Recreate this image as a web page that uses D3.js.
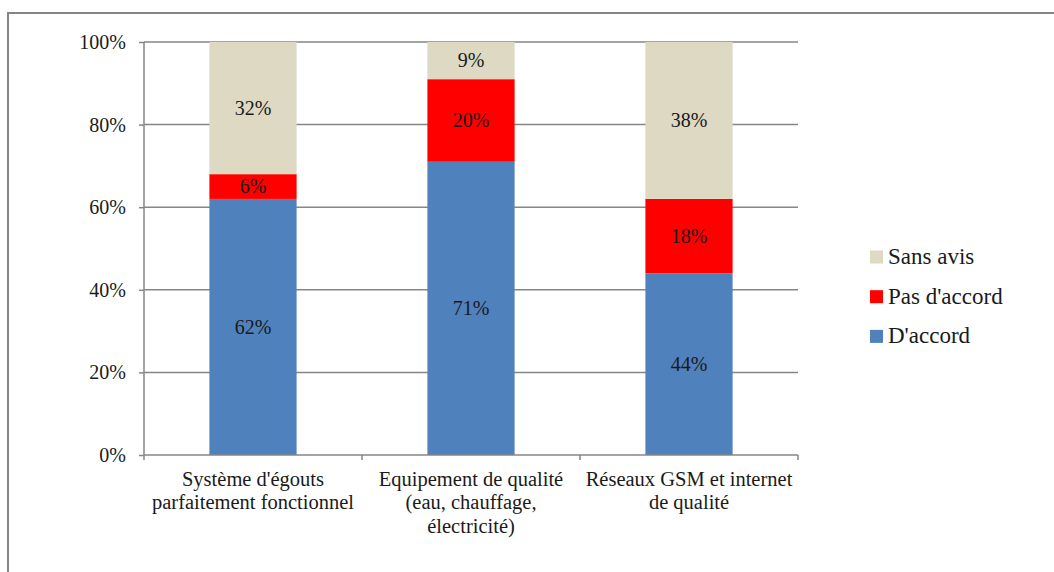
<!DOCTYPE html>
<html>
<head>
<meta charset="utf-8">
<script src="https://cdn.jsdelivr.net/npm/d3@7"></script>
<style>
  html, body { margin: 0; padding: 0; background: #fff; }
  svg { display: block; }
  svg text { font-family: "Liberation Serif", serif; }
</style>
</head>
<body>
<svg id="chart" width="1054" height="572"></svg>
<script>
// Survey answers per infrastructure item (percent)
const categories = [
  ["Système d'égouts", "parfaitement fonctionnel"],
  ["Equipement de qualité", "(eau, chauffage,", "électricité)"],
  ["Réseaux GSM et internet", "de qualité"]
];
const seriesNames = ["D'accord", "Pas d'accord", "Sans avis"];
const dAccord = [62, 71, 44];
const pasDAccord = [6, 20, 18];
const sansAvis = [32, 9, 38];
const yTicks = [0, 20, 40, 60, 80, 100];
const colors = ["#4F81BD", "#FF0000", "#DDD9C3"];

const FONT = "Liberation Serif";
const svg = d3.select("#chart");
const gridColor = "#868686";
const textColor = "#1a1a1a";

// Outer frame of the chart area
svg.append("rect")
  .attr("x", 8).attr("y", 13)
  .attr("width", 1060).attr("height", 580)
  .attr("fill", "none").attr("stroke", gridColor).attr("stroke-width", 2);

const plot = { left: 144, right: 798, top: 42, bottom: 455 };

const x = d3.scaleBand()
  .domain(d3.range(categories.length))
  .range([plot.left, plot.right])
  .paddingInner(0.6).paddingOuter(0.3);

const y = d3.scaleLinear().domain([0, 100]).range([plot.bottom, plot.top]);

// Horizontal gridlines
svg.append("g").selectAll("line")
  .data(yTicks.filter(t => t > 0))
  .join("line")
  .attr("x1", plot.left).attr("x2", plot.right)
  .attr("y1", d => y(d)).attr("y2", d => y(d))
  .attr("stroke", gridColor).attr("stroke-width", 1.5);

// Stacked data
const rows = categories.map((c, i) => ({ i, v: [dAccord[i], pasDAccord[i], sansAvis[i]] }));
const stack = d3.stack().keys([0, 1, 2]).value((d, k) => d.v[k]);
const layers = stack(rows);

const layerG = svg.append("g").selectAll("g")
  .data(layers)
  .join("g")
  .attr("fill", (d, k) => colors[k]);

layerG.selectAll("rect")
  .data(d => d)
  .join("rect")
  .attr("x", d => x(d.data.i))
  .attr("width", x.bandwidth())
  .attr("y", d => y(d[1]))
  .attr("height", d => y(d[0]) - y(d[1]));

// Value labels inside segments
layerG.selectAll("text")
  .data((d, k) => d.map(s => ({ s, k })))
  .join("text")
  .attr("font-family", FONT)
  .attr("x", d => x(d.s.data.i) + x.bandwidth() / 2)
  .attr("y", d => (y(d.s[0]) + y(d.s[1])) / 2)
  .attr("dy", "0.33em")
  .attr("text-anchor", "middle")
  .attr("fill", textColor)
  .attr("font-size", 20)
  .text(d => d.s.data.v[d.k] + "%");

// Y axis
const yAxis = svg.append("g")
  .attr("transform", `translate(${plot.left},0)`)
  .call(d3.axisLeft(y).tickValues(yTicks).tickSize(5).tickFormat(d => d + "%"))
  .attr("font-family", FONT);
yAxis.select(".domain").attr("stroke", gridColor).attr("stroke-width", 1.5).attr("d", `M0,${plot.top}V${plot.bottom}`);
yAxis.selectAll(".tick line").attr("stroke", gridColor).attr("stroke-width", 1.5);
yAxis.selectAll(".tick text")
  .attr("font-family", FONT)
  .attr("x", -18).attr("dy", "0.32em").attr("font-size", 20).attr("fill", textColor);

// X axis with ticks at category boundaries
const xAxisG = svg.append("g");
xAxisG.append("line")
  .attr("x1", plot.left).attr("x2", plot.right)
  .attr("y1", plot.bottom).attr("y2", plot.bottom)
  .attr("stroke", gridColor).attr("stroke-width", 1.5);
const bounds = d3.range(categories.length + 1).map(i => plot.left + i * (plot.right - plot.left) / categories.length);
xAxisG.selectAll("line.tk")
  .data(bounds)
  .join("line")
  .attr("class", "tk")
  .attr("x1", d => d).attr("x2", d => d)
  .attr("y1", plot.bottom).attr("y2", plot.bottom + 5)
  .attr("stroke", gridColor).attr("stroke-width", 1.5);

const xl = xAxisG.selectAll("text.cat")
  .data(categories)
  .join("text")
  .attr("class", "cat")
  .attr("font-family", FONT)
  .attr("text-anchor", "middle")
  .attr("fill", textColor)
  .attr("font-size", 20.5)
  .attr("transform", (d, i) => `translate(${x(i) + x.bandwidth() / 2},${485.5})`);
xl.selectAll("tspan")
  .data(d => d)
  .join("tspan")
  .attr("x", 0)
  .attr("y", (d, j) => j * 23.5)
  .text(d => d);

// Legend (top to bottom: Sans avis, Pas d'accord, D'accord)
const legendOrder = [2, 1, 0];
const lg = svg.append("g").selectAll("g")
  .data(legendOrder)
  .join("g")
  .attr("transform", (k, j) => `translate(870,${257 + j * 39.7})`);
lg.append("rect")
  .attr("x", 0).attr("y", -6.5).attr("width", 13).attr("height", 13)
  .attr("fill", k => colors[k]);
lg.append("text")
  .attr("font-family", FONT)
  .attr("x", 18).attr("dy", "0.3em")
  .attr("font-size", 23).attr("fill", textColor)
  .text(k => seriesNames[k]);
</script>
</body>
</html>
